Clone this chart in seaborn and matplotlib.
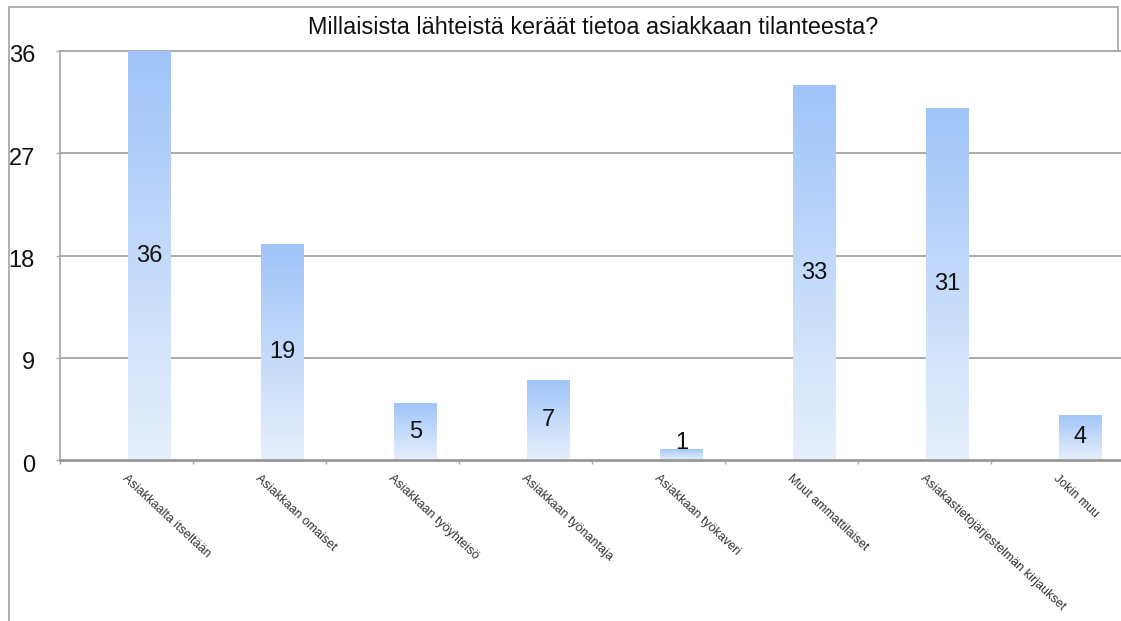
import numpy as np
import matplotlib
matplotlib.use("Agg")
import matplotlib.pyplot as plt
import matplotlib.transforms as mtransforms
import seaborn as sns
import pandas as pd
from matplotlib.colors import LinearSegmentedColormap
from matplotlib.lines import Line2D
from matplotlib.ticker import FixedLocator

categories = [
    "Asiakkaalta itseltään",
    "Asiakkaan omaiset",
    "Asiakkaan työyhteisö",
    "Asiakkaan työnantaja",
    "Asiakkaan työkaveri",
    "Muut ammattilaiset",
    "Asiakastietojärjestelmän kirjaukset",
    "Jokin muu",
]
counts = [36, 19, 5, 7, 1, 33, 31, 4]
y_ticks = [0, 9, 18, 27, 36]
title = "Millaisista lähteistä keräät tietoa asiakkaan tilanteesta?"

sns.set_theme(style="white")
plt.rcParams["font.family"] = ["Liberation Sans", "DejaVu Sans"]

df = pd.DataFrame({"source": categories, "count": counts})

W, H = 1121, 621
fig = plt.figure(figsize=(W / 100, H / 100), dpi=100)
fig.patch.set_facecolor("white")

# plot area in pixels: left 60, top 51, zero line at 460
ax = fig.add_axes([60 / W, (H - 460) / H, (W - 60) / W, 409 / H])

sns.barplot(data=df, x="source", y="count", ax=ax, width=0.32,
            color="#b8d2fa", saturation=1, zorder=3)

slot = 133.0
left = -0.673

# gradient fill for bars
cmap = LinearSegmentedColormap.from_list("bargrad", ["#e7f0fc", "#a0c4f9"])
grad = np.linspace(0, 1, 256).reshape(-1, 1)
for p in list(ax.patches):
    x0, y0 = p.get_x(), p.get_y()
    w, h = p.get_width(), p.get_height()
    p.set_facecolor("none")
    p.set_edgecolor("none")
    im = ax.imshow(grad, cmap=cmap, origin="lower", aspect="auto",
                   extent=[x0, x0 + w, y0, y0 + h], zorder=3)
    im.set_clip_path(p)
ax.set_xlim(left, left + (W - 60) / slot)
ax.set_ylim(0, 36)

# grid + spines
for v in y_ticks[1:]:
    ax.axhline(v, color="#aaaaaa", lw=1.4, zorder=1, clip_on=False)
for s in ["top", "right"]:
    ax.spines[s].set_visible(False)
ax.spines["left"].set_color("#aaaaaa")
ax.spines["left"].set_linewidth(1.3)
ax.spines["bottom"].set_color("#999999")
ax.spines["bottom"].set_linewidth(2.0)
ax.spines["bottom"].set_zorder(4)

ax.set_yticks(y_ticks)
ax.set_yticklabels([str(v) for v in y_ticks], fontsize=17, color="#111111")
ax.tick_params(axis="y", length=3, width=1, color="#aaaaaa", left=True, pad=15)
shift = mtransforms.ScaledTranslation(0, -3 / 100, fig.dpi_scale_trans)
for lbl in ax.get_yticklabels():
    lbl.set_transform(lbl.get_transform() + shift)

ax.xaxis.set_major_locator(FixedLocator([i + left + 1 for i in range(-1, len(categories))]))
ax.set_xticklabels([])
ax.tick_params(axis="x", length=3, width=1, color="#aaaaaa", bottom=True)
ax.set_xlabel("")
ax.set_ylabel("")

# category labels
for i, name in enumerate(categories):
    ax.text(i - 0.16, -0.03, name, transform=ax.get_xaxis_transform(),
            rotation=-43, rotation_mode="anchor", ha="left", va="top",
            fontsize=9, color="#333333")

# value labels inside bars
for i, v in enumerate(counts):
    ax.text(i, max(v / 2, 1.5), str(v), ha="center", va="center",
            fontsize=17, color="#111111", zorder=5)

# title and outer frame
fig.text(593 / W, 1 - 27 / H, title, ha="center", va="center",
         fontsize=16.8, color="#111111")
frame = dict(color="#aaaaaa", lw=1.3, transform=None)
fig.add_artist(Line2D([9, 9], [H - 7, 0], **frame))
fig.add_artist(Line2D([9, 1118], [H - 7, H - 7], **frame))
fig.add_artist(Line2D([1118, 1118], [H - 7, H - 51], **frame))

fig.savefig("out.png", dpi=100, facecolor="white")
